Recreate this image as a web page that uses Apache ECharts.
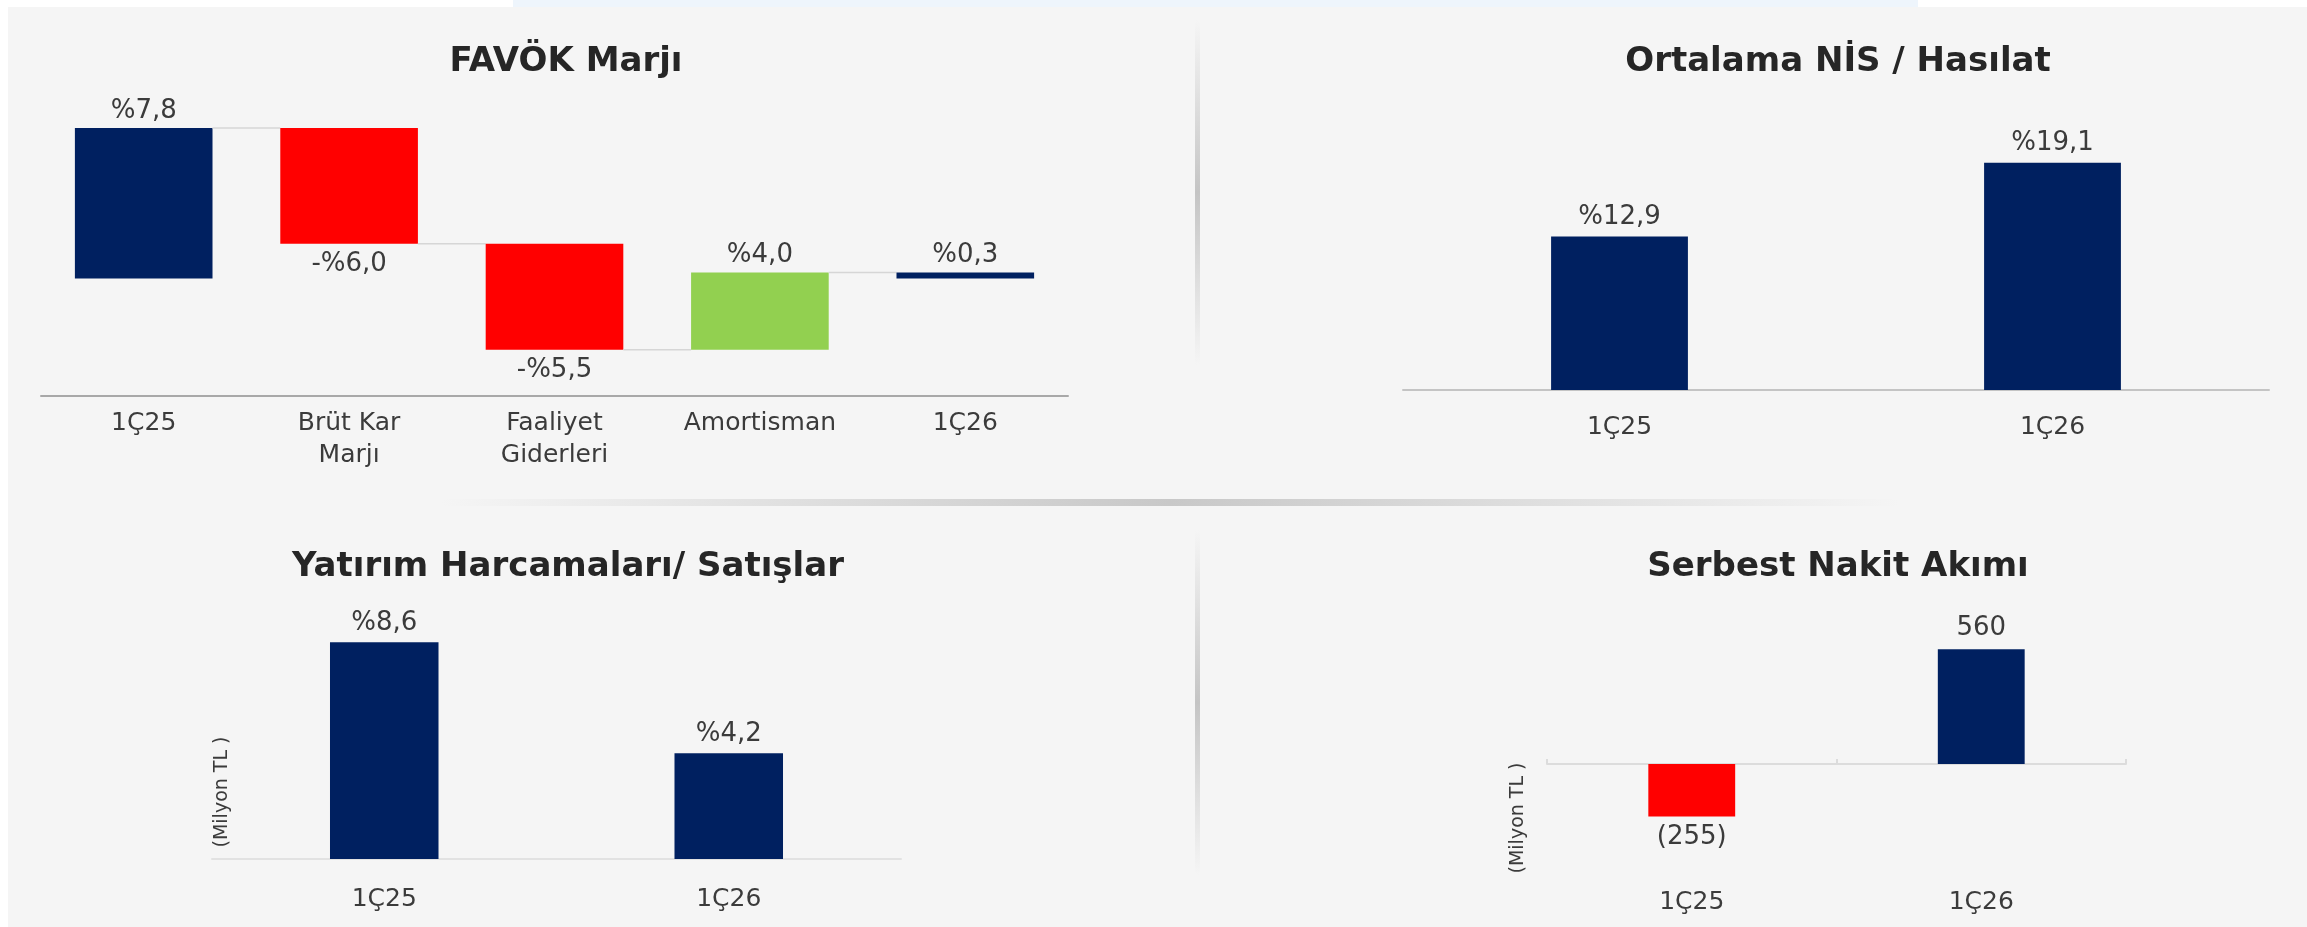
<!DOCTYPE html>
<html lang="tr">
<head>
  <meta charset="UTF-8">
  <title>Finansal göstergeler</title>
  <script type="text/javascript" src="https://fastly.jsdelivr.net/npm/echarts@6/dist/echarts.min.js"></script>
  <style>
    html, body, #container {
      width: 100%;
      height: 100%;
      margin: 0;
      padding: 0;
      overflow: hidden;
      background: #f5f5f5;
    }
  </style>
</head>
<body>
  <div id="container"></div>

  <script type="text/javascript">

    // FAVÖK Marjı (waterfall)
    var favokCats = ['1Ç25', 'Brüt Kar\nMarjı', 'Faaliyet\nGiderleri', 'Amortisman', '1Ç26'];
    var favokValues = [7.8, -6.0, -5.5, 4.0, 0.3];
    var favokKinds = ['total', 'delta', 'delta', 'delta', 'total'];
    var favokLabels = ['%7,8', '-%6,0', '-%5,5', '%4,0', '%0,3'];

    // Ortalama NİS / Hasılat
    var nisCats = ['1Ç25', '1Ç26'];
    var nisValues = [12.9, 19.1];
    var nisLabels = ['%12,9', '%19,1'];

    // Yatırım Harcamaları / Satışlar
    var capexCats = ['1Ç25', '1Ç26'];
    var capexValues = [8.6, 4.2];
    var capexLabels = ['%8,6', '%4,2'];

    // Serbest Nakit Akımı (Milyon TL)
    var fcfCats = ['1Ç25', '1Ç26'];
    var fcfValues = [-255, 560];
    var fcfLabels = ['(255)', '560'];

    var NAVY = '#002060', RED = '#ff0000', GREEN = '#92d050';
    var FONT = '"DejaVu Sans", "Liberation Sans", sans-serif';
    var TXT = '#3b3b3b';

    // waterfall rows: [index, low, high, endLevel, value]
    var run = 0;
    var favokRows = favokValues.map(function (v, i) {
      var start = favokKinds[i] === 'total' ? 0 : run;
      var end = start + v;
      run = end;
      return [i, Math.min(start, end), Math.max(start, end), end, v];
    });

    function favokColor(i) {
      if (favokKinds[i] === 'total') return NAVY;
      return favokValues[i] < 0 ? RED : GREEN;
    }

    function renderWaterfall(params, api) {
      var i = params.dataIndex;
      var idx = api.value(0);
      var band = api.size([1, 0])[0];
      var w = band * 0.67;
      var pHigh = api.coord([idx, api.value(2)]);
      var pLow = api.coord([idx, api.value(1)]);
      var neg = favokValues[i] < 0;
      var children = [{
        type: 'rect',
        shape: { x: pHigh[0] - w / 2, y: pHigh[1], width: w, height: Math.max(pLow[1] - pHigh[1], 1) },
        style: { fill: favokColor(i) },
        textContent: {
          style: { text: favokLabels[i], fill: TXT, fontSize: 26, fontFamily: FONT }
        },
        textConfig: { position: neg ? 'bottom' : 'top', distance: neg ? 8 : 4 }
      }];
      if (i < favokRows.length - 1) {
        var pe = api.coord([idx, api.value(3)]);
        children.push({
          type: 'line',
          shape: { x1: pe[0] + w / 2, y1: pe[1], x2: pe[0] + band - w / 2, y2: pe[1] },
          style: { stroke: '#d6d6d6', lineWidth: 1.5 }
        });
      }
      return { type: 'group', children: children };
    }

    function catAxis(grid, cats, opt) {
      return Object.assign({
        type: 'category',
        gridIndex: grid,
        data: cats,
        axisTick: { show: false },
        axisLabel: { color: TXT, fontSize: 25, fontFamily: FONT, lineHeight: 32 }
      }, opt);
    }

    function titleText(text, x, y) {
      return {
        type: 'text', x: x, y: y, z: 10,
        style: {
          text: text, fill: '#262626', fontSize: 34, fontWeight: 'bold', fontFamily: FONT,
          textAlign: 'center', textVerticalAlign: 'middle'
        }
      };
    }

    function unitText(x, y) {
      return {
        type: 'text', x: x, y: y, rotation: Math.PI / 2, z: 10,
        style: {
          text: '(Milyon TL )', fill: '#3b3b3b', fontSize: 19, fontFamily: FONT,
          textAlign: 'center', textVerticalAlign: 'middle'
        }
      };
    }

    function fade(c) {
      return [
        { offset: 0, color: 'rgba(200,200,200,0)' },
        { offset: 0.5, color: c },
        { offset: 1, color: 'rgba(200,200,200,0)' }
      ];
    }

    var chart = echarts.init(document.getElementById('container'), null, { renderer: 'canvas' });

    chart.setOption({
      backgroundColor: '#f5f5f5',
      animation: false,
      graphic: [
        { type: 'rect', z: -1, shape: { x: 0, y: 0, width: 2307, height: 7 }, style: { fill: '#ffffff' } },
        { type: 'rect', z: -1, shape: { x: 513, y: 0, width: 1405, height: 7 }, style: { fill: '#eef5fc' } },
        { type: 'rect', z: -1, shape: { x: 0, y: 0, width: 8, height: 927 }, style: { fill: '#ffffff' } },
        { type: 'rect', z: -1, shape: { x: 1195, y: 20, width: 5, height: 345 },
          style: { fill: new echarts.graphic.LinearGradient(0, 0, 0, 1, fade('#c4c4c4')) } },
        { type: 'rect', z: -1, shape: { x: 1195, y: 530, width: 5, height: 345 },
          style: { fill: new echarts.graphic.LinearGradient(0, 0, 0, 1, fade('#c4c4c4')) } },
        { type: 'rect', z: -1, shape: { x: 440, y: 499, width: 1460, height: 7 },
          style: { fill: new echarts.graphic.LinearGradient(0, 0, 1, 0, fade('#c8c8c8')) } },
        titleText('FAVÖK Marjı', 566, 62),
        titleText('Ortalama NİS / Hasılat', 1838, 62),
        titleText('Yatırım Harcamaları/ Satışlar', 568, 567),
        titleText('Serbest Nakit Akımı', 1838, 567),
        unitText(222, 792),
        unitText(1518, 818)
      ],
      grid: [
        { left: 41, top: 128, width: 1027, height: 268 },
        { left: 1403, top: 152, width: 866, height: 238 },
        { left: 212, top: 607, width: 689, height: 252 },
        { left: 1547, top: 641, width: 579, height: 239 }
      ],
      xAxis: [
        catAxis(0, favokCats, {
          axisLine: { onZero: false, lineStyle: { color: '#a8a8a8', width: 2 } },
          axisLabel: { color: TXT, fontSize: 25, fontFamily: FONT, lineHeight: 32, margin: 11 }
        }),
        catAxis(1, nisCats, {
          axisLine: { onZero: false, lineStyle: { color: '#c4c4c4', width: 2 } },
          axisLabel: { color: TXT, fontSize: 25, fontFamily: FONT, lineHeight: 32, margin: 21 }
        }),
        catAxis(2, capexCats, {
          axisLine: { onZero: false, lineStyle: { color: '#e2e2e2', width: 2 } },
          axisLabel: { color: TXT, fontSize: 25, fontFamily: FONT, lineHeight: 32, margin: 24 }
        }),
        catAxis(3, fcfCats, {
          axisLine: { show: false, onZero: false },
          axisLabel: { color: TXT, fontSize: 25, fontFamily: FONT, lineHeight: 32, margin: 6 }
        }),
        catAxis(3, fcfCats, {
          axisLine: { onZero: true, lineStyle: { color: '#dcdcdc', width: 2 } },
          axisTick: { show: true, length: 5, lineStyle: { color: '#dcdcdc', width: 2 } },
          axisLabel: { show: false }
        })
      ],
      yAxis: [
        { type: 'value', gridIndex: 0, min: -6.1, max: 7.8, show: false },
        { type: 'value', gridIndex: 1, min: 0, max: 20, show: false },
        { type: 'value', gridIndex: 2, min: 0, max: 10, show: false },
        { type: 'value', gridIndex: 3, min: -565, max: 600, show: false }
      ],
      series: [
        {
          type: 'custom',
          xAxisIndex: 0,
          yAxisIndex: 0,
          renderItem: renderWaterfall,
          encode: { x: 0, y: [1, 2] },
          data: favokRows
        },
        {
          type: 'bar',
          xAxisIndex: 1,
          yAxisIndex: 1,
          barWidth: '31.6%',
          itemStyle: { color: NAVY },
          label: {
            show: true, position: 'top', distance: 6, color: TXT, fontSize: 26, fontFamily: FONT,
            formatter: function (p) { return nisLabels[p.dataIndex]; }
          },
          data: nisValues
        },
        {
          type: 'bar',
          xAxisIndex: 2,
          yAxisIndex: 2,
          barWidth: '31.5%',
          itemStyle: { color: NAVY },
          label: {
            show: true, position: 'top', distance: 6, color: TXT, fontSize: 26, fontFamily: FONT,
            formatter: function (p) { return capexLabels[p.dataIndex]; }
          },
          data: capexValues
        },
        {
          type: 'bar',
          xAxisIndex: 3,
          yAxisIndex: 3,
          barWidth: '30%',
          label: {
            show: true, color: TXT, fontSize: 26, fontFamily: FONT, distance: 8,
            formatter: function (p) { return fcfLabels[p.dataIndex]; }
          },
          data: fcfValues.map(function (v) {
            return {
              value: v,
              itemStyle: { color: v < 0 ? RED : NAVY },
              label: { position: v < 0 ? 'bottom' : 'top' }
            };
          })
        }
      ]
    });
  </script>
</body>
</html>
